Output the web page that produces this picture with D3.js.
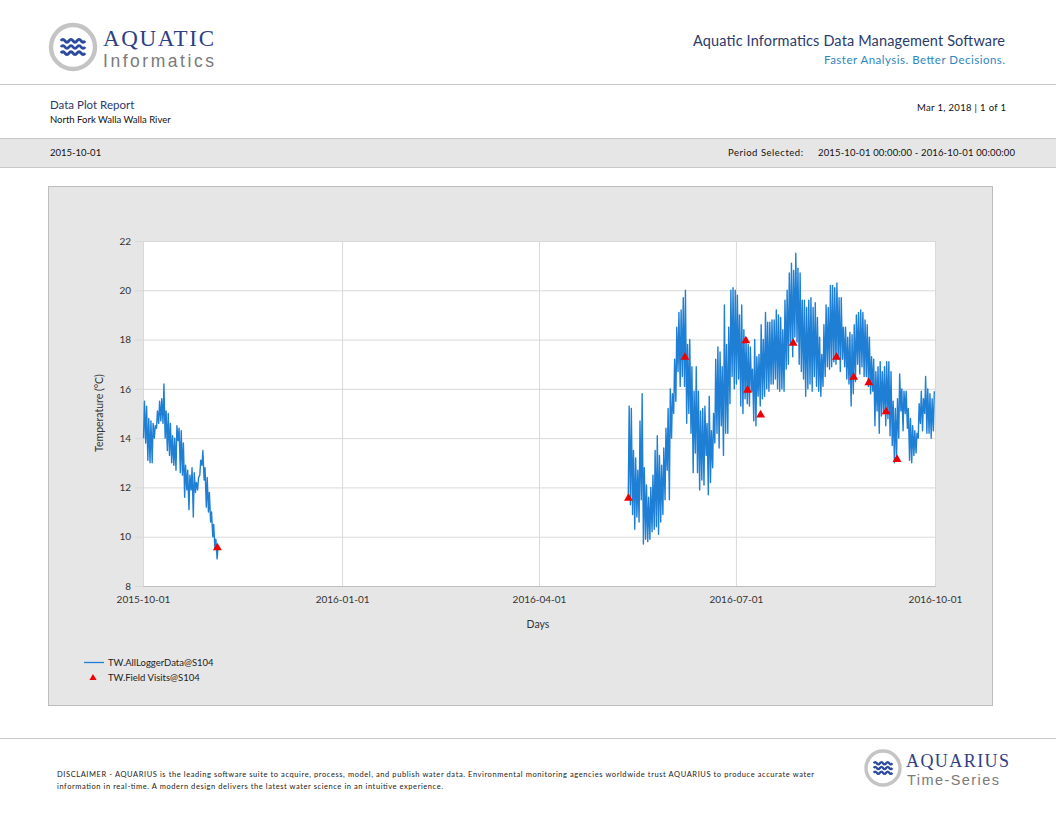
<!DOCTYPE html>
<html>
<head>
<meta charset="utf-8">
<script src="https://cdn.jsdelivr.net/npm/d3@7"></script>
<style>
  body { margin: 0; background: #fff; }
  svg { display: block; font-family: Lato, "Open Sans", sans-serif; }
</style>
</head>
<body>
<svg id="page" width="1056" height="816"></svg>
<script>
// Temperature logger report - daily min / max
const seg1Start = "2015-10-01";
const seg1Max = [15.5, 15.3, 14.8, 14.7, 14.6, 14.5, 15.1, 15.5, 15.6, 16.2,
  15.1, 15.0, 14.6, 14.1, 14.0, 14.5, 14.4, 14.3, 13.8, 12.9,
  12.7, 12.5, 12.8, 12.6, 12.2, 12.4, 13.1, 13.5, 12.8, 12.4,
  11.8, 11.0, 10.5, 9.9, 9.6];
const seg1Min = [14.0, 13.8, 13.1, 13.0, 13.0, 14.0, 14.4, 14.6, 14.7, 14.6,
  14.0, 13.5, 13.3, 13.0, 12.9, 12.7, 13.9, 12.6, 12.5, 11.6,
  11.9, 11.1, 11.9, 10.8, 11.8, 11.9, 12.5, 12.9, 12.3, 11.2,
  11.0, 10.6, 10.0, 9.5, 9.1];

const seg2Start = "2016-05-12";
const seg2Max = [15.3, 15.2, 13.5, 13.2, 12.7, 14.7, 15.8, 12.8, 12.1, 11.6,
  12.0, 12.5, 13.5, 14.1, 13.3, 12.9, 13.6, 14.4, 15.2, 16.0,
  15.8, 17.2, 18.5, 19.1, 19.2, 19.7, 20.0, 17.8, 18.0, 16.9,
  15.9, 16.9, 15.9, 15.1, 15.2, 15.3, 14.6, 15.7, 14.3, 15.0,
  17.2, 17.7, 17.5, 16.9, 19.4, 17.8, 18.5, 20.0, 20.1, 20.0,
  19.8, 19.0, 19.4, 18.4, 18.0, 17.8, 17.7, 16.8, 18.0, 17.3,
  17.4, 18.6, 18.0, 19.1, 18.7, 18.7, 18.8, 18.8, 19.2, 19.0,
  18.9, 18.4, 19.6, 20.0, 20.7, 21.1, 20.8, 21.5, 20.9, 20.7,
  19.6, 19.6, 19.3, 19.6, 19.7, 19.3, 19.5, 18.9, 18.1, 17.4,
  18.6, 19.4, 19.3, 20.2, 20.2, 20.1, 20.3, 19.7, 19.7, 18.5,
  18.5, 18.1, 18.3, 18.2, 18.6, 19.0, 19.1, 19.2, 19.1, 18.8,
  18.6, 18.1, 17.3, 17.2, 16.7, 16.9, 17.1, 16.7, 16.9, 17.1,
  17.1, 16.7, 15.5, 15.2, 15.6, 16.6, 16.0, 15.9, 15.9, 15.2,
  14.8, 14.5, 14.3, 14.2, 15.4, 15.9, 15.6, 16.5, 16.0, 15.8,
  15.6, 15.9];
const seg2Min = [11.6, 11.3, 10.9, 10.3, 10.8, 10.6, 11.5, 9.7, 9.9, 9.8,
  9.9, 10.2, 10.3, 10.4, 10.1, 10.6, 10.9, 11.5, 12.7, 11.5,
  14.0, 15.0, 15.5, 16.7, 16.1, 16.5, 16.1, 14.6, 15.0, 14.2,
  12.6, 13.4, 12.6, 11.9, 12.3, 12.1, 13.3, 11.7, 12.2, 12.8,
  13.8, 14.2, 13.6, 14.5, 13.3, 14.2, 14.2, 15.4, 16.5, 16.0,
  16.2, 16.4, 15.3, 15.0, 15.6, 15.4, 15.3, 15.9, 14.7, 14.5,
  15.7, 15.3, 15.6, 15.7, 16.0, 15.9, 16.2, 16.2, 16.4, 16.0,
  15.9, 16.0, 15.9, 16.8, 17.0, 17.8, 17.3, 18.1, 17.9, 17.0,
  16.7, 16.4, 15.7, 16.0, 16.2, 15.9, 16.5, 16.1, 15.9, 15.7,
  16.1, 16.5, 16.9, 16.8, 16.9, 17.1, 17.0, 17.2, 16.7, 17.2,
  16.9, 16.4, 16.2, 15.3, 15.8, 16.3, 17.0, 16.6, 16.9, 16.5,
  16.5, 16.1, 15.8, 15.9, 14.5, 15.1, 14.2, 14.9, 15.0, 14.5,
  14.8, 14.1, 13.7, 13.0, 13.3, 14.0, 15.1, 14.3, 15.0, 14.4,
  13.1, 13.0, 13.3, 13.4, 14.0, 14.6, 14.3, 15.0, 14.2, 14.2,
  14.0, 14.3];

const visitTimes = ["2015-11-04T09:00", "2016-05-12T08:00", "2016-06-07T10:00",
  "2016-07-05T14:00", "2016-07-06T09:00", "2016-07-12T10:00", "2016-07-27T11:00",
  "2016-08-16T11:00", "2016-08-24T10:00", "2016-08-31T10:00", "2016-09-08T10:00",
  "2016-09-13T11:00"];
const visitValues = [9.55, 11.56, 17.28, 17.95, 15.95, 14.94, 17.85, 17.28, 16.47, 16.25, 15.07, 13.14];

const yTicks = [8, 10, 12, 14, 16, 18, 20, 22];
const xTickLabels = ["2015-10-01", "2016-01-01", "2016-04-01", "2016-07-01", "2016-10-01"];

const navy = "#2b3a6b";
const parse = d3.timeParse("%Y-%m-%dT%H:%M");

// turn daily min/max into a series (min early morning, max afternoon)
function buildSeries(start, mins, maxs) {
  const pts = [];
  mins.forEach((mn, i) => {
    const day = d3.timeDay.offset(d3.timeParse("%Y-%m-%d")(start), i);
    pts.push({ t: d3.timeHour.offset(day, 6), v: mn });
    pts.push({ t: d3.timeHour.offset(day, 16), v: maxs[i] });
  });
  return pts;
}
const seg1 = buildSeries(seg1Start, seg1Min, seg1Max);
const seg2 = buildSeries(seg2Start, seg2Min, seg2Max);

const svg = d3.select("#page");

// ---- header ----
function waveLogo(g, cx, cy, r) {
  g.append("circle").attr("cx", cx).attr("cy", cy).attr("r", r)
    .attr("fill", "#fff").attr("stroke", "#c4c4c4").attr("stroke-width", r * 0.2);
  const w = r * 1.1;
  [-0.28, 0, 0.28].forEach(off => {
    const y0 = cy + off * r;
    const p = d3.path();
    p.moveTo(cx - w / 2, y0);
    for (let k = 0; k < 3; k++) {
      const xs = cx - w / 2 + k * w / 3;
      p.quadraticCurveTo(xs + w / 12, y0 - r * 0.13, xs + w / 6, y0);
      p.quadraticCurveTo(xs + w / 4, y0 + r * 0.13, xs + w / 3, y0);
    }
    g.append("path").attr("d", p.toString()).attr("fill", "none")
      .attr("stroke", "#2c4a9e").attr("stroke-width", r * 0.13);
  });
}
waveLogo(svg.append("g"), 73, 47, 22);
svg.append("text").attr("x", 103).attr("y", 45.5).text("AQUATIC")
  .attr("font-family", "'Liberation Serif', serif").attr("font-size", 23).attr("fill", "#2e3f86")
  .attr("textLength", 111);
svg.append("text").attr("x", 103).attr("y", 66.5).text("Informatics")
  .attr("font-family", "'Liberation Sans', sans-serif")
  .attr("font-size", 17.5).attr("fill", "#7a7a7a").attr("textLength", 111);

svg.append("text").attr("x", 1005).attr("y", 46).attr("text-anchor", "end")
  .text("Aquatic Informatics Data Management Software")
  .attr("font-size", 14.5).attr("fill", navy).attr("textLength", 312);
svg.append("text").attr("x", 1005).attr("y", 64).attr("text-anchor", "end")
  .text("Faster Analysis. Better Decisions.")
  .attr("font-size", 11.5).attr("fill", "#2e86c1").attr("textLength", 181);

svg.append("line").attr("x1", 0).attr("x2", 1056).attr("y1", 84.5).attr("y2", 84.5)
  .attr("stroke", "#c8c8c8");

svg.append("text").attr("x", 50).attr("y", 109).text("Data Plot Report")
  .attr("font-size", 11.5).attr("fill", navy);
svg.append("text").attr("x", 50).attr("y", 123).text("North Fork Walla Walla River")
  .attr("font-size", 9.5).attr("fill", "#111");
svg.append("text").attr("x", 1006).attr("y", 111).attr("text-anchor", "end")
  .text("Mar 1, 2018 | 1 of 1").attr("font-size", 9.5).attr("fill", "#111").attr("textLength", 89);

svg.append("rect").attr("x", 0).attr("y", 138).attr("width", 1056).attr("height", 30)
  .attr("fill", "#e6e6e6");
svg.append("line").attr("x1", 0).attr("x2", 1056).attr("y1", 138.5).attr("y2", 138.5).attr("stroke", "#c8c8c8");
svg.append("line").attr("x1", 0).attr("x2", 1056).attr("y1", 167.5).attr("y2", 167.5).attr("stroke", "#c8c8c8");
svg.append("text").attr("x", 50).attr("y", 156).text("2015-10-01").attr("font-size", 9.5).attr("fill", "#111");
svg.append("text").attr("x", 728).attr("y", 156).text("Period Selected:").attr("font-size", 9.5).attr("fill", "#111")
  .attr("textLength", 75);
svg.append("text").attr("x", 1015).attr("y", 156).attr("text-anchor", "end")
  .text("2015-10-01 00:00:00 - 2016-10-01 00:00:00").attr("font-size", 9.5).attr("fill", "#111")
  .attr("textLength", 197);

// ---- chart panel ----
svg.append("rect").attr("x", 48.5).attr("y", 186.5).attr("width", 944).attr("height", 519)
  .attr("fill", "#e6e6e6").attr("stroke", "#bdbdbd");

const x = d3.scaleTime()
  .domain([new Date(2015, 9, 1), new Date(2016, 9, 1)])
  .range([143, 935]);
const y = d3.scaleLinear().domain([8, 22]).range([586, 241]);

svg.append("rect").attr("x", x.range()[0]).attr("y", y(22))
  .attr("width", x.range()[1] - x.range()[0]).attr("height", y(8) - y(22))
  .attr("fill", "#fff");

const xTickDates = xTickLabels.map(d3.timeParse("%Y-%m-%d"));

const yAxis = d3.axisLeft(y).tickValues(yTicks)
  .tickSize(-(x.range()[1] - x.range()[0])).tickPadding(12).tickFormat(d3.format("d"));
const gy = svg.append("g").attr("transform", `translate(${x.range()[0]},0)`).call(yAxis);
gy.select(".domain").attr("stroke", "#bfbfbf");
gy.selectAll(".tick line").attr("stroke", "#d9d9d9").attr("x1", -8);
gy.selectAll(".tick text").attr("font-size", 10).attr("fill", "#333").attr("font-family", "Lato, sans-serif");

const xAxis = d3.axisBottom(x).tickValues(xTickDates)
  .tickSize(-(y(8) - y(22))).tickPadding(10).tickFormat(d3.timeFormat("%Y-%m-%d"));
const gx = svg.append("g").attr("transform", `translate(0,${y(8)})`).call(xAxis);
gx.select(".domain").attr("stroke", "#bfbfbf");
gx.selectAll(".tick line").attr("stroke", "#d9d9d9");
gx.selectAll(".tick text").attr("font-size", 10).attr("fill", "#333").attr("font-family", "Lato, sans-serif");

svg.append("text").attr("x", 538).attr("y", 628).attr("text-anchor", "middle")
  .text("Days").attr("font-size", 10.5).attr("fill", "#333");
svg.append("text").attr("transform", "translate(103,413) rotate(-90)").attr("text-anchor", "middle")
  .text("Temperature (°C)").attr("font-size", 10.5).attr("fill", "#333");

const line = d3.line().x(d => x(d.t)).y(d => y(d.v));
[seg1, seg2].forEach(s => {
  svg.append("path").datum(s).attr("d", line)
    .attr("fill", "none").attr("stroke", "#1f7fd4").attr("stroke-width", 1.4)
    .attr("stroke-linejoin", "round");
});

const tri = d3.symbol().type(d3.symbolTriangle).size(34);
svg.append("g").selectAll("path").data(visitTimes.map((t, i) => ({ t: parse(t), v: visitValues[i] })))
  .join("path").attr("d", tri)
  .attr("transform", d => `translate(${x(d.t)},${y(d.v)})`)
  .attr("fill", "#f00000");

// legend
svg.append("line").attr("x1", 84).attr("x2", 104).attr("y1", 662.5).attr("y2", 662.5)
  .attr("stroke", "#1f7fd4").attr("stroke-width", 1.3);
svg.append("text").attr("x", 108).attr("y", 666).text("TW.AllLoggerData@S104")
  .attr("font-size", 9.5).attr("fill", "#222");
svg.append("path").attr("d", d3.symbol().type(d3.symbolTriangle).size(22))
  .attr("transform", "translate(93,678)").attr("fill", "#f00000");
svg.append("text").attr("x", 108).attr("y", 681).text("TW.Field Visits@S104")
  .attr("font-size", 9.5).attr("fill", "#222");

// ---- footer ----
svg.append("line").attr("x1", 0).attr("x2", 1056).attr("y1", 738.5).attr("y2", 738.5)
  .attr("stroke", "#c8c8c8");
svg.append("text").attr("x", 57).attr("y", 777)
  .text("DISCLAIMER - AQUARIUS is the leading software suite to acquire, process, model, and publish water data. Environmental monitoring agencies worldwide trust AQUARIUS to produce accurate water")
  .attr("font-size", 7.5).attr("fill", "#222").attr("textLength", 757);
svg.append("text").attr("x", 57).attr("y", 789)
  .text("information in real-time. A modern design delivers the latest water science in an intuitive experience.")
  .attr("font-size", 7.5).attr("fill", "#222").attr("textLength", 386);

waveLogo(svg.append("g"), 883, 768, 17);
svg.append("text").attr("x", 906).attr("y", 767).text("AQUARIUS")
  .attr("font-family", "'Liberation Serif', serif").attr("font-size", 18).attr("fill", "#2e3f86")
  .attr("textLength", 103);
svg.append("text").attr("x", 907).attr("y", 785).text("Time-Series")
  .attr("font-family", "'Liberation Sans', sans-serif")
  .attr("font-size", 14.5).attr("fill", "#7a7a7a").attr("textLength", 92);
</script>
</body>
</html>
